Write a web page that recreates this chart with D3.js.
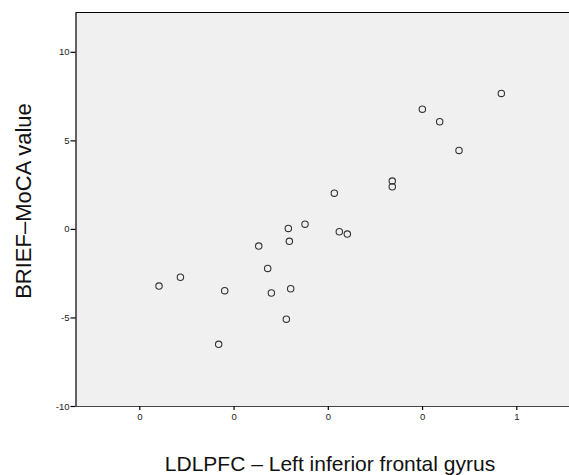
<!DOCTYPE html>
<html>
<head>
<meta charset="utf-8">
<script src="https://cdn.jsdelivr.net/npm/d3@7"></script>
<style>
  html, body { margin: 0; padding: 0; background: #fff; }
  svg { display: block; font-family: Arial, "Liberation Sans", sans-serif; }
</style>
</head>
<body>
<svg id="chart" width="569" height="475"></svg>
<script>
// LDLPFC activation (left inferior frontal gyrus) against BRIEF–MoCA value
const ldlpfc = [0.1209, 0.1436, 0.1906, 0.1842, 0.2267, 0.2362, 0.2401, 0.2560, 0.2606, 0.2592, 0.2581,
                0.2758, 0.3122, 0.3207, 0.3069, 0.3684, 0.3684, 0.4003, 0.4187, 0.4392, 0.4841];
const briefMoca = [-3.23, -2.73, -3.49, -6.52, -0.97, -2.23, -3.62, -5.10, -3.38, -0.70, 0.03,
                   0.27, -0.16, -0.29, 2.02, 2.70, 2.38, 6.76, 6.05, 4.43, 7.65];

const xTicks = [0.1, 0.2, 0.3, 0.4, 0.5];
const xTickLabels = ["0", "0", "0", "0", "1"];
const yTicks = [-10, -5, 0, 5, 10];
const yTickLabels = ["-10", "-5", "0", "5", "10"];

const xTitle = "LDLPFC \u2013 Left inferior frontal gyrus";
const yTitle = "BRIEF\u2013MoCA value";

const svg = d3.select("#chart");
const plot = { left: 75.5, top: 12.5, right: 569, bottom: 406 };

const x = d3.scaleLinear().domain([0.0323, 0.5559]).range([plot.left, plot.right]);
const y = d3.scaleLinear().domain([-10, 12.22]).range([plot.bottom, plot.top]);

// plot background
svg.append("rect")
  .attr("x", plot.left).attr("y", plot.top)
  .attr("width", plot.right - plot.left).attr("height", plot.bottom - plot.top)
  .attr("fill", "#f0f0f0");

// frame: top edge
svg.append("line")
  .attr("x1", plot.left).attr("x2", plot.right)
  .attr("y1", plot.top).attr("y2", plot.top)
  .attr("stroke", "#000").attr("stroke-width", 1.2);

// axes
const xAxis = d3.axisBottom(x).tickValues(xTicks)
  .tickFormat((d, i) => xTickLabels[i]).tickSize(4).tickSizeOuter(0).tickPadding(3);
const yAxis = d3.axisLeft(y).tickValues(yTicks)
  .tickFormat((d, i) => yTickLabels[i]).tickSize(5).tickSizeOuter(0).tickPadding(1);

const gx = svg.append("g").attr("transform", `translate(0,${plot.bottom})`).call(xAxis);
const gy = svg.append("g").attr("transform", `translate(${plot.left},0)`).call(yAxis);

[gx, gy].forEach(g => {
  g.selectAll("text").attr("font-size", 9.5).attr("fill", "#222")
    .attr("font-family", "Arial, 'Liberation Sans', sans-serif");
  g.selectAll(".tick line").attr("stroke", "#000").attr("stroke-width", 1.2);
});
gx.select(".domain").attr("stroke", "#444").attr("stroke-width", 1.2);
gy.select(".domain").attr("stroke", "#000").attr("stroke-width", 1.2);

// points
svg.append("g").selectAll("circle")
  .data(ldlpfc.map((v, i) => [v, briefMoca[i]]))
  .join("circle")
  .attr("cx", d => x(d[0]))
  .attr("cy", d => y(d[1]))
  .attr("r", 3.2)
  .attr("fill", "none")
  .attr("stroke", "#333")
  .attr("stroke-width", 1.1);

// axis titles
svg.append("text")
  .attr("x", 330).attr("y", 471)
  .attr("text-anchor", "middle")
  .attr("font-size", 21).attr("fill", "#111")
  .text(xTitle);

svg.append("text")
  .attr("transform", "translate(31,201) rotate(-90)")
  .attr("text-anchor", "middle")
  .attr("font-size", 22).attr("fill", "#111")
  .text(yTitle);
</script>
</body>
</html>
